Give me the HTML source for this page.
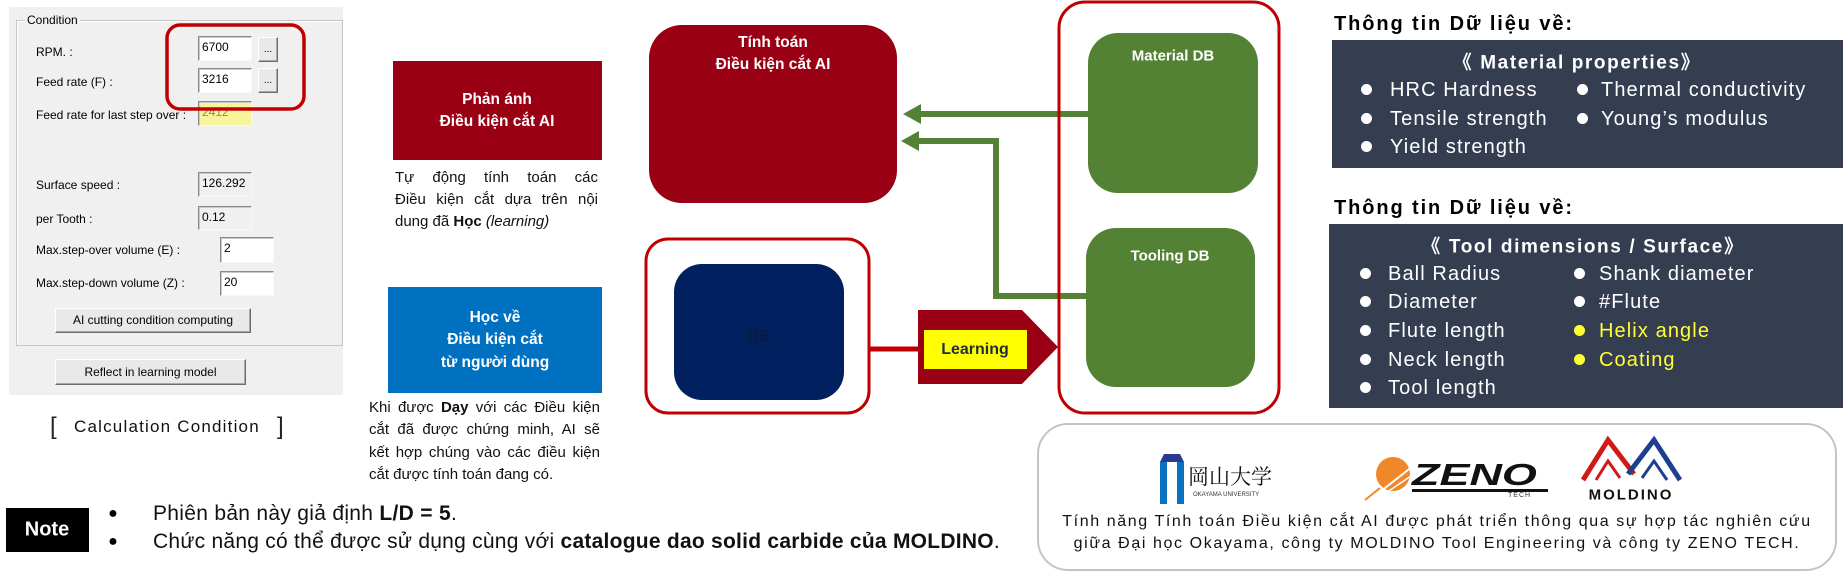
<!DOCTYPE html>
<html><head><meta charset="utf-8">
<style>
*{margin:0;padding:0;box-sizing:border-box}
body{width:1843px;height:574px;position:relative;background:#fff;overflow:hidden;font-family:"Liberation Sans","DejaVu Sans","Noto Sans CJK JP",sans-serif;}
.a{position:absolute}
.lbl{position:absolute;font-size:12px;color:#000;line-height:14px;white-space:nowrap}
.tb{position:absolute;background:#fff;border-top:1px solid #8a8a8a;border-left:1px solid #8a8a8a;border-bottom:1px solid #f8f8f8;border-right:1px solid #f8f8f8;box-shadow:inset 1px 1px 0 #c8c8c8;font-size:12px;padding:2px 0 0 3px;line-height:16px;white-space:nowrap;overflow:hidden}
.btn{position:absolute;background:#e9e9e9;border-top:1px solid #fff;border-left:1px solid #fff;border-right:1px solid #6d6d6d;border-bottom:1px solid #6d6d6d;box-shadow:inset -1px -1px 0 #a8a8a8;font-size:12px;text-align:center;white-space:nowrap}
.c{position:absolute;transform:translate(-50%,-50%);white-space:nowrap;text-align:center}
.w{color:#fff;font-weight:bold;font-size:15.5px}
.j{position:absolute;font-size:15px;line-height:22px;color:#111;white-space:nowrap}
.jl{text-align:justify;text-align-last:justify;white-space:normal}
.hd{position:absolute;font-size:20px;font-weight:bold;letter-spacing:1.9px;color:#000;white-space:nowrap;line-height:24px}
.bt{position:absolute;font-size:20px;letter-spacing:1.1px;color:#fff;white-space:nowrap;line-height:24px}
.dot{position:absolute;width:11px;height:11px;border-radius:50%;background:#fff}
.ttl{font-weight:bold;font-size:19px;letter-spacing:1.6px;color:#fff}
</style></head><body>

<!-- Left dialog panel -->
<div class="a" style="left:9px;top:7px;width:334px;height:388px;background:#f0f0f0"></div>
<div class="a" style="left:16px;top:20px;width:327px;height:326px;border:1px solid #c6c6c6;box-shadow:inset 1px 1px 0 #fff"></div>
<div class="lbl" style="left:25px;top:13px;background:#f0f0f0;padding:0 2px">Condition</div>

<div class="lbl" style="left:36px;top:45px">RPM. :</div>
<div class="lbl" style="left:36px;top:75px">Feed rate (F) :</div>
<div class="lbl" style="left:36px;top:108px">Feed rate for last step over :</div>
<div class="lbl" style="left:36px;top:178px">Surface speed :</div>
<div class="lbl" style="left:36px;top:212px">per Tooth :</div>
<div class="lbl" style="left:36px;top:243px">Max.step-over volume (E) :</div>
<div class="lbl" style="left:36px;top:276px">Max.step-down volume (Z) :</div>

<div class="tb" style="left:198px;top:36px;width:54px;height:25px">6700</div>
<div class="btn" style="left:258px;top:37px;width:20px;height:25px;line-height:24px;font-size:10px">...</div>
<div class="tb" style="left:198px;top:68px;width:54px;height:25px">3216</div>
<div class="btn" style="left:258px;top:68px;width:20px;height:25px;line-height:24px;font-size:10px">...</div>
<div class="tb" style="left:198px;top:101px;width:54px;height:25px;background:#f7f59c;color:#8a8a6a">2412</div>
<div class="tb" style="left:198px;top:172px;width:54px;height:25px;background:#f0f0f0">126.292</div>
<div class="tb" style="left:198px;top:206px;width:54px;height:24px;background:#f0f0f0">0.12</div>
<div class="tb" style="left:220px;top:237px;width:54px;height:26px">2</div>
<div class="tb" style="left:220px;top:271px;width:54px;height:25px">20</div>

<div class="btn" style="left:55px;top:308px;width:196px;height:25px;line-height:23px">AI cutting condition computing</div>
<div class="btn" style="left:55px;top:359px;width:191px;height:26px;line-height:24px">Reflect in learning model</div>

<div class="a" style="left:50px;top:413px;font-size:24px;line-height:28px;color:#222;font-weight:300">[</div>
<div class="a" style="left:74px;top:417px;font-size:17px;line-height:20px;letter-spacing:1.2px;color:#111;white-space:nowrap">Calculation Condition</div>
<div class="a" style="left:277px;top:413px;font-size:24px;line-height:28px;color:#222">]</div>

<svg class="a" style="left:0;top:0" width="1843" height="574">
<rect x="167" y="25" width="137" height="84" rx="13" fill="none" stroke="#c00000" stroke-width="3.5"/>
<rect x="393" y="61" width="209" height="99" fill="#9a0013"/>
<rect x="388" y="287" width="214" height="106" fill="#0070c0"/>
<rect x="649" y="25" width="248" height="178" rx="33" fill="#9a0013"/>
<g stroke="#548235" stroke-width="6" fill="none">
<line x1="1090" y1="114" x2="918" y2="114"/>
<polyline points="1088,296 996,296 996,141 916,141"/>
</g>
<polygon points="903,114 921,104 921,124" fill="#548235"/>
<polygon points="901,141 919,131 919,151" fill="#548235"/>
<rect x="646" y="239" width="223" height="174" rx="22" fill="none" stroke="#c00000" stroke-width="3"/>
<rect x="1059" y="2" width="220" height="411" rx="26" fill="none" stroke="#c00000" stroke-width="3"/>
<rect x="674" y="264" width="170" height="136" rx="28" fill="#002060"/>
<line x1="869" y1="349" x2="920" y2="349" stroke="#c00000" stroke-width="5"/>
<polygon points="918,310 1022,310 1058,347 1022,384 918,384" fill="#9a0013"/>
<rect x="924" y="330" width="103" height="39" fill="#ffff00"/>
<rect x="1088" y="33" width="170" height="160" rx="30" fill="#548235"/>
<rect x="1086" y="228" width="169" height="159" rx="30" fill="#548235"/>
<rect x="1332" y="40" width="511" height="128" fill="#353d51"/>
<rect x="1329" y="224" width="514" height="184" fill="#353d51"/>
<rect x="1038" y="424" width="798" height="146" rx="30" fill="#fff" stroke="#c4c4c4" stroke-width="2"/>
<rect x="6" y="508" width="83" height="44" fill="#000"/>
<!-- Okayama icon -->
<polygon points="1160,462 1164,454 1180,454 1184,462" fill="#2a3a8c"/>
<rect x="1160" y="462" width="24" height="42" fill="#0a72c0"/>
<rect x="1167" y="462" width="10" height="42" fill="#fff"/>
<!-- ZENO icon -->
<circle cx="1393" cy="474" r="17" fill="#f0882a"/>
<path d="M1372,498 C1385,488 1398,478 1418,462" stroke="#fff" stroke-width="2" fill="none"/>
<path d="M1376,500 C1390,490 1402,482 1420,470" stroke="#fff" stroke-width="1.5" fill="none"/>
<path d="M1365,500 L1380,488" stroke="#f0882a" stroke-width="2" fill="none"/>
<rect x="1412" y="489" width="136" height="3" fill="#111"/>
<!-- MOLDINO logo -->
<path d="M1583,480 L1608,440 L1634,474" stroke="#d01a1a" stroke-width="5" fill="none" stroke-linejoin="miter"/>
<path d="M1596,480 L1608,461 L1620,478" stroke="#d01a1a" stroke-width="3" fill="none"/>
<path d="M1628,474 L1654,440 L1680,480" stroke="#1d3f8f" stroke-width="5" fill="none"/>
<path d="M1642,478 L1654,461 L1667,480" stroke="#1d3f8f" stroke-width="3" fill="none"/>
</svg>

<!-- middle texts -->
<div class="c w" style="left:497px;top:100px">Phản ánh</div>
<div class="c w" style="left:497px;top:122px">Điều kiện cắt AI</div>

<div class="j jl" style="left:395px;top:167px;width:203px">Tự động tính toán các</div>
<div class="j jl" style="left:395px;top:189px;width:203px">Điều kiện cắt dựa trên nội</div>
<div class="j" style="left:395px;top:211px">dung đã <b>Học</b> <i>(learning)</i></div>

<div class="c w" style="left:495px;top:318px">Học về</div>
<div class="c w" style="left:495px;top:340px">Điều kiện cắt</div>
<div class="c w" style="left:495px;top:363px">từ người dùng</div>

<div class="j jl" style="left:369px;top:397px;width:231px">Khi được <b>Dạy</b> với các Điều kiện</div>
<div class="j jl" style="left:369px;top:419px;width:231px">cắt đã được chứng minh, AI sẽ</div>
<div class="j jl" style="left:369px;top:442px;width:231px">kết hợp chúng vào các điều kiện</div>
<div class="j" style="left:369px;top:464px">cắt được tính toán đang có.</div>

<div class="c w" style="left:773px;top:43px">Tính toán</div>
<div class="c w" style="left:773px;top:65px">Điều kiện cắt AI</div>

<div class="c" style="left:759px;top:337px;font-weight:bold;font-size:16px;color:#0c1a40">DB</div>
<div class="c" style="left:975px;top:350px;font-weight:bold;font-size:16px;color:#1f2d3d">Learning</div>

<div class="c w" style="left:1173px;top:56px;font-size:15px">Material DB</div>
<div class="c w" style="left:1170px;top:256px;font-size:15px">Tooling DB</div>

<!-- right info panels -->
<div class="hd" style="left:1334px;top:12px">Thông tin Dữ liệu về:</div>
<div class="c ttl" style="left:1577px;top:61px">《 Material properties》</div>
<div class="dot" style="left:1361px;top:84px"></div><div class="bt" style="left:1390px;top:78px">HRC Hardness</div>
<div class="dot" style="left:1577px;top:84px"></div><div class="bt" style="left:1601px;top:78px">Thermal conductivity</div>
<div class="dot" style="left:1361px;top:113px"></div><div class="bt" style="left:1390px;top:107px">Tensile strength</div>
<div class="dot" style="left:1577px;top:113px"></div><div class="bt" style="left:1601px;top:107px">Young’s modulus</div>
<div class="dot" style="left:1361px;top:141px"></div><div class="bt" style="left:1390px;top:135px">Yield strength</div>

<div class="hd" style="left:1334px;top:196px">Thông tin Dữ liệu về:</div>
<div class="c ttl" style="left:1583px;top:245px">《 Tool dimensions / Surface》</div>
<div class="dot" style="left:1360px;top:268px"></div><div class="bt" style="left:1388px;top:262px">Ball Radius</div>
<div class="dot" style="left:1360px;top:296px"></div><div class="bt" style="left:1388px;top:290px">Diameter</div>
<div class="dot" style="left:1360px;top:325px"></div><div class="bt" style="left:1388px;top:319px">Flute length</div>
<div class="dot" style="left:1360px;top:354px"></div><div class="bt" style="left:1388px;top:348px">Neck length</div>
<div class="dot" style="left:1360px;top:382px"></div><div class="bt" style="left:1388px;top:376px">Tool length</div>
<div class="dot" style="left:1574px;top:268px"></div><div class="bt" style="left:1599px;top:262px">Shank diameter</div>
<div class="dot" style="left:1574px;top:296px"></div><div class="bt" style="left:1599px;top:290px">#Flute</div>
<div class="dot" style="left:1574px;top:325px;background:#ffff33"></div><div class="bt" style="left:1599px;top:319px;color:#ffff33">Helix angle</div>
<div class="dot" style="left:1574px;top:354px;background:#ffff33"></div><div class="bt" style="left:1599px;top:348px;color:#ffff33">Coating</div>

<!-- logos -->
<div class="a" style="left:1188px;top:464px;font-family:'Noto Serif CJK SC','Noto Sans CJK JP',serif;font-size:21px;line-height:24px;color:#111;white-space:nowrap">岡山大学</div>
<div class="a" style="left:1193px;top:492px;font-size:6px;line-height:7px;color:#333;white-space:nowrap">OKAYAMA UNIVERSITY</div>
<div class="a" style="left:1412px;top:459px;font-size:31px;line-height:32px;font-weight:bold;font-style:italic;color:#111;white-space:nowrap;transform:scaleX(1.45);transform-origin:left top">ZENO</div>
<div class="a" style="left:1508px;top:492px;font-size:7px;line-height:8px;color:#333;letter-spacing:1px">TECH</div>
<div class="c" style="left:1631px;top:495px;font-weight:bold;font-size:15px;letter-spacing:2px;color:#111">MOLDINO</div>

<div class="c" style="left:1437px;top:522px;font-size:16px;letter-spacing:1.6px;color:#111">Tính năng Tính toán Điều kiện cắt AI được phát triển thông qua sự hợp tác nghiên cứu</div>
<div class="c" style="left:1437px;top:544px;font-size:16px;letter-spacing:1.6px;color:#111">giữa Đại học Okayama, công ty MOLDINO Tool Engineering và công ty ZENO TECH.</div>

<!-- note -->
<div class="c" style="left:47px;top:530px;color:#fff;font-weight:bold;font-size:20px">Note</div>
<div class="c" style="left:113px;top:514px;font-size:16px;color:#000">●</div>
<div class="c" style="left:113px;top:542px;font-size:16px;color:#000">●</div>
<div class="a" style="left:153px;top:502px;font-size:21px;line-height:24px;color:#111;white-space:nowrap;letter-spacing:0.3px">Phiên bản này giả định <b>L/D = 5</b>.</div>
<div class="a" style="left:153px;top:530px;font-size:21px;line-height:24px;color:#111;white-space:nowrap;letter-spacing:0.25px">Chức năng có thể được sử dụng cùng với <b>catalogue dao solid carbide của MOLDINO</b>.</div>

</body></html>
